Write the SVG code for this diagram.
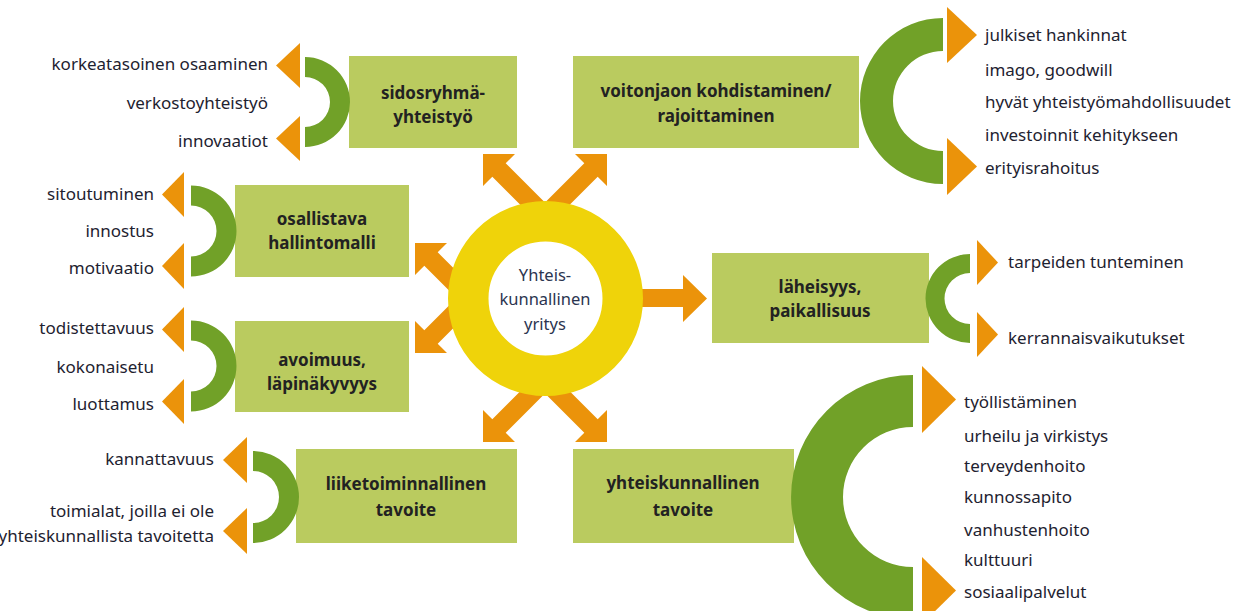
<svg xmlns="http://www.w3.org/2000/svg" width="1235" height="611" viewBox="0 0 1235 611">
<style>
.box{fill:#BACB5F}
.ring{fill:#71A128}
.tri{fill:#EB930A}
.arr{fill:#EB930A}
.t{font-family:"Noto Sans","DejaVu Sans",sans-serif;font-size:17px;fill:#1e2230}
.b{font-family:"Noto Sans","DejaVu Sans",sans-serif;font-size:17px;font-weight:bold;fill:#222;text-anchor:middle}
.e{text-anchor:end}
.c{font-family:"Noto Sans","DejaVu Sans",sans-serif;font-size:16.5px;fill:#2b3550;text-anchor:middle}
</style>
<defs>
<polygon id="diag" points="0,0 32,0 22.7,9.3 67.7,54.3 54.3,67.7 9.3,22.7 0,32"/>
</defs>
<rect width="1235" height="611" fill="#fff"/>

<g id="connectors">
<polygon class="arr" points="630,289 683,289 683,275 707,298.5 683,322 683,307 630,307"/>
<use href="#diag" class="arr" transform="translate(483,154)"/>
<use href="#diag" class="arr" transform="translate(607,154) scale(-1,1)"/>
<use href="#diag" class="arr" transform="translate(483,442) scale(1,-1)"/>
<use href="#diag" class="arr" transform="translate(607,442) scale(-1,-1)"/>
<use href="#diag" class="arr" transform="translate(415,243)"/>
<use href="#diag" class="arr" transform="translate(415,353) scale(1,-1)"/>
</g>

<g id="center">
<circle cx="545.5" cy="298.5" r="77.25" fill="#fff" stroke="#EFD30A" stroke-width="40.5"/>
<text class="c" x="545" y="281">Yhteis-</text>
<text class="c" x="545" y="305">kunnallinen</text>
<text class="c" x="545" y="330">yritys</text>
</g>

<g id="sidosryhma">
<rect class="box" x="349" y="56" width="168" height="92"/>
<text class="b" x="433" y="99">sidosryhmä-</text>
<text class="b" x="433" y="123">yhteistyö</text>
<path class="ring" d="M305,57 A45,45 0 0 1 305,147 L305,127 A25,25 0 0 0 305,77 Z"/>
<polygon class="tri" points="300,43 300,88 276,65.5"/>
<polygon class="tri" points="300,116 300,161 276,138.5"/>
<text class="t e" x="268" y="70">korkeatasoinen osaaminen</text>
<text class="t e" x="268" y="109">verkostoyhteistyö</text>
<text class="t e" x="268" y="147">innovaatiot</text>
</g>

<g id="osallistava">
<rect class="box" x="235" y="185" width="174" height="92"/>
<text class="b" x="322" y="225">osallistava</text>
<text class="b" x="322" y="249">hallintomalli</text>
<path class="ring" d="M191,185.5 A45.5,45.5 0 0 1 191,276.5 L191,256.5 A25.5,25.5 0 0 0 191,205.5 Z"/>
<polygon class="tri" points="184,172 184,217 162,194.5"/>
<polygon class="tri" points="184,243 184,289 162,266"/>
<text class="t e" x="154" y="200">sitoutuminen</text>
<text class="t e" x="154" y="237">innostus</text>
<text class="t e" x="154" y="274">motivaatio</text>
</g>

<g id="avoimuus">
<rect class="box" x="235" y="321" width="174" height="91"/>
<text class="b" x="322" y="366">avoimuus,</text>
<text class="b" x="322" y="390">läpinäkyvyys</text>
<path class="ring" d="M191,320.5 A45.5,45.5 0 0 1 191,411.5 L191,391.5 A25.5,25.5 0 0 0 191,340.5 Z"/>
<polygon class="tri" points="184,307 184,352 162,329.5"/>
<polygon class="tri" points="184,379 184,424 162,401.5"/>
<text class="t e" x="154" y="334">todistettavuus</text>
<text class="t e" x="154" y="373">kokonaisetu</text>
<text class="t e" x="154" y="410">luottamus</text>
</g>

<g id="liiketoiminnallinen">
<rect class="box" x="296" y="449" width="221" height="94"/>
<text class="b" x="406" y="490">liiketoiminnallinen</text>
<text class="b" x="406" y="516">tavoite</text>
<path class="ring" d="M253,451 A46,46 0 0 1 253,543 L253,523 A26,26 0 0 0 253,471 Z"/>
<polygon class="tri" points="247,437 247,483 223,460"/>
<polygon class="tri" points="247,508 247,554 223,531"/>
<text class="t e" x="214" y="465">kannattavuus</text>
<text class="t e" x="214" y="517">toimialat, joilla ei ole</text>
<text class="t e" x="214" y="542">yhteiskunnallista tavoitetta</text>
</g>

<g id="voitonjaon">
<rect class="box" x="573" y="56" width="286" height="92"/>
<text class="b" x="716" y="97">voitonjaon kohdistaminen/</text>
<text class="b" x="716" y="122">rajoittaminen</text>
<path class="ring" d="M943,18 A83,83 0 0 0 943,184 L943,151 A50,50 0 0 1 943,51 Z"/>
<polygon class="tri" points="947,7 947,63 977,35"/>
<polygon class="tri" points="947,138 947,195 977,166.5"/>
<text class="t" x="985" y="41">julkiset hankinnat</text>
<text class="t" x="985" y="76">imago, goodwill</text>
<text class="t" x="985" y="108">hyvät yhteistyömahdollisuudet</text>
<text class="t" x="985" y="141">investoinnit kehitykseen</text>
<text class="t" x="985" y="174">erityisrahoitus</text>
</g>

<g id="laheisyys">
<rect class="box" x="712" y="253" width="217" height="90"/>
<text class="b" x="820" y="293">läheisyys,</text>
<text class="b" x="820" y="317">paikallisuus</text>
<path class="ring" d="M970,254 A44.5,44.5 0 0 0 970,343 L970,324 A25.5,25.5 0 0 1 970,273 Z"/>
<polygon class="tri" points="977,240 977,285 998,262.5"/>
<polygon class="tri" points="977,312 977,357 998,334.5"/>
<text class="t" x="1008" y="268">tarpeiden tunteminen</text>
<text class="t" x="1008" y="344">kerrannaisvaikutukset</text>
</g>

<g id="yhteiskunnallinen">
<rect class="box" x="573" y="449" width="221" height="94"/>
<text class="b" x="683" y="489">yhteiskunnallinen</text>
<text class="b" x="683" y="516">tavoite</text>
<path class="ring" d="M913,375 A122,122 0 0 0 913,619 L913,567 A70,70 0 0 1 913,427 Z"/>
<polygon class="tri" points="922,366 922,433 956,399.5"/>
<polygon class="tri" points="922,557 922,624 956,590.5"/>
<text class="t" x="964" y="408">työllistäminen</text>
<text class="t" x="964" y="442">urheilu ja virkistys</text>
<text class="t" x="964" y="472">terveydenhoito</text>
<text class="t" x="964" y="503">kunnossapito</text>
<text class="t" x="964" y="536">vanhustenhoito</text>
<text class="t" x="964" y="566">kulttuuri</text>
<text class="t" x="964" y="598">sosiaalipalvelut</text>
</g>
</svg>
